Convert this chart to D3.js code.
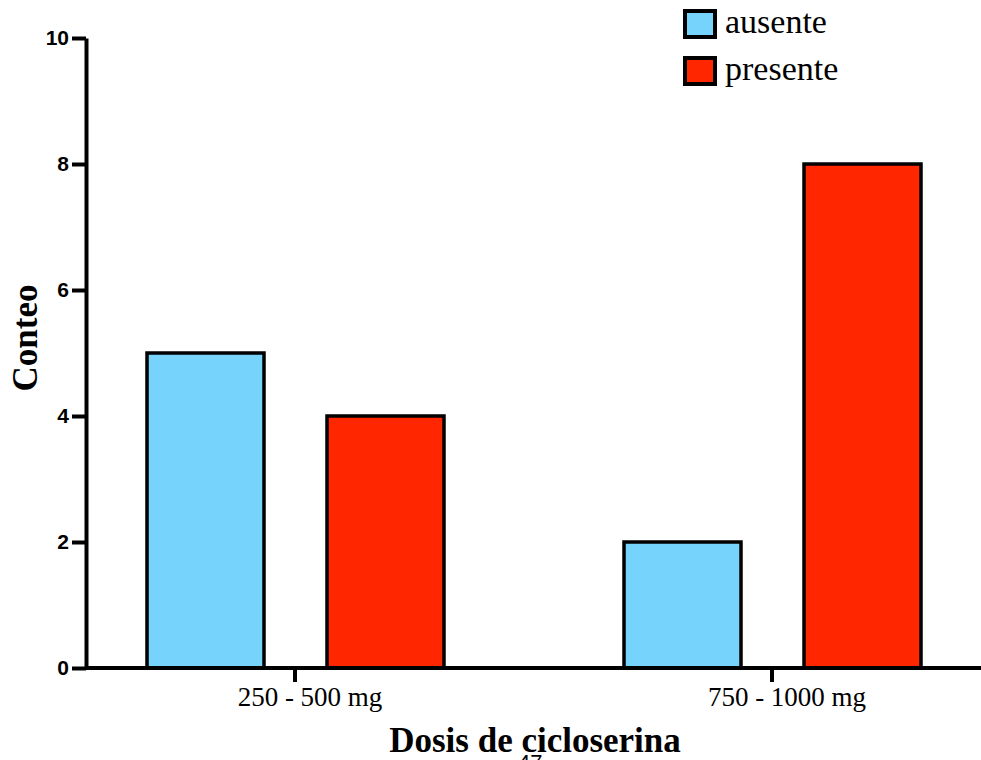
<!DOCTYPE html>
<html>
<head>
<meta charset="utf-8">
<script src="https://cdn.jsdelivr.net/npm/d3@7"></script>
<style>
  body { margin: 0; background: #fff; }
  svg { display: block; }
</style>
</head>
<body>
<svg id="chart" width="981" height="760"></svg>
<script>
const categories = ["250 - 500 mg", "750 - 1000 mg"];
const seriesNames = ["ausente", "presente"];
const ausente = [5, 2];
const presente = [4, 8];
const yTicks = [0, 2, 4, 6, 8, 10];
const colors = ["#75D3FC", "#FF2600"];

const svg = d3.select("#chart");
const y = d3.scaleLinear().domain([0, 10]).range([668, 38]);
const x0 = d3.scaleBand().domain(categories).range([56.5, 1010.5]).padding(0);
const x1 = d3.scaleBand().domain(seriesNames).range([90.5, 387.5]).paddingInner(0.35).paddingOuter(0);

const data = categories.map((c, i) => ({ cat: c, values: [ausente[i], presente[i]] }));

// bars
const groups = svg.append("g").selectAll("g").data(data).join("g")
  .attr("transform", d => `translate(${x0(d.cat)},0)`);
groups.selectAll("rect")
  .data(d => d.values.map((v, j) => ({ name: seriesNames[j], v, j })))
  .join("rect")
  .attr("x", d => x1(d.name))
  .attr("width", x1.bandwidth())
  .attr("y", d => y(d.v))
  .attr("height", d => y(0) - y(d.v))
  .attr("fill", d => colors[d.j])
  .attr("stroke", "#000")
  .attr("stroke-width", 3.5);

// y axis
const yAxis = svg.append("g").attr("transform", "translate(86,0)")
  .call(d3.axisLeft(y).tickValues(yTicks).tickSize(14).tickSizeOuter(0).tickPadding(3));
yAxis.select(".domain").attr("stroke", "#000").attr("stroke-width", 4);
yAxis.selectAll(".tick line").attr("stroke", "#000").attr("stroke-width", 4);
yAxis.selectAll(".tick text")
  .attr("font-family", "Arial, 'Liberation Sans', sans-serif")
  .attr("font-weight", "bold").attr("font-size", 21).attr("fill", "#000");

// x axis
const xAxis = svg.append("g").attr("transform", `translate(0,${y(0)})`)
  .call(d3.axisBottom(x0).tickSize(14).tickSizeOuter(0).tickPadding(5));
xAxis.select(".domain").remove();
xAxis.selectAll(".tick line").attr("stroke", "#000").attr("stroke-width", 4);
xAxis.selectAll(".tick text")
  .attr("font-family", "'Liberation Serif', 'Times New Roman', serif")
  .attr("font-size", 27).attr("fill", "#000").attr("dx", 15);
svg.append("line")
  .attr("x1", 86).attr("x2", 981)
  .attr("y1", y(0)).attr("y2", y(0))
  .attr("stroke", "#000").attr("stroke-width", 4);

// axis titles
svg.append("text")
  .attr("x", 535).attr("y", 752)
  .attr("text-anchor", "middle")
  .attr("font-family", "'Liberation Serif', 'Times New Roman', serif")
  .attr("font-weight", "bold").attr("font-size", 35)
  .text("Dosis de cicloserina");
svg.append("text")
  .attr("transform", "translate(37,338) rotate(-90)")
  .attr("text-anchor", "middle")
  .attr("font-family", "'Liberation Serif', 'Times New Roman', serif")
  .attr("font-weight", "bold").attr("font-size", 35)
  .text("Conteo");

// page number artifact (partly cut off at the bottom, as in the source)
svg.append("text")
  .attr("x", 518).attr("y", 770)
  .attr("font-family", "Arial, 'Liberation Sans', sans-serif")
  .attr("font-size", 22)
  .text("47");

// legend
const legend = svg.append("g");
const lg = legend.selectAll("g").data(seriesNames).join("g")
  .attr("transform", (d, i) => `translate(685,${11 + i * 47})`);
lg.append("rect")
  .attr("width", 30).attr("height", 26)
  .attr("fill", (d, i) => colors[i])
  .attr("stroke", "#000").attr("stroke-width", 4);
lg.append("text")
  .attr("x", 40).attr("y", 22)
  .attr("font-family", "'Liberation Serif', 'Times New Roman', serif")
  .attr("font-size", 34)
  .text(d => d);
</script>
</body>
</html>
